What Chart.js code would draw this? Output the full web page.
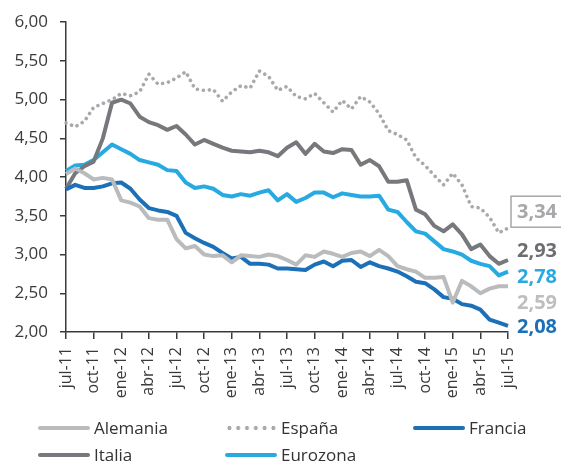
<!DOCTYPE html>
<html>
<head>
<meta charset="utf-8">
<script src="https://cdn.jsdelivr.net/npm/chart.js@4.4.1/dist/chart.umd.min.js"></script>
<style>
  html, body { margin: 0; padding: 0; background: #fff; }
  #wrap { position: relative; width: 561px; height: 464px; font-family: 'Open Sans', sans-serif; }
  #c { position: absolute; left: 0; top: 0; }
  .lg { position: absolute; display: flex; align-items: center; font-size: 17px; color: #333; line-height: 20px; white-space: nowrap; }
  .sw { width: 52px; height: 4px; margin-right: 4px; border-radius: 2px; }
  .sw.dots { background: radial-gradient(circle, #a7a9ac 1.8px, transparent 2.2px) 0 0 / 8.8px 4px repeat-x !important; }
</style>
</head>
<body>
<div id="wrap">
  <canvas id="c" width="561" height="464"></canvas>
</div>
<script>
// ── DATA ─────────────────────────────────────────────────────
const months = [
  'jul-11','ago-11','sep-11','oct-11','nov-11','dic-11',
  'ene-12','feb-12','mar-12','abr-12','may-12','jun-12','jul-12','ago-12','sep-12','oct-12','nov-12','dic-12',
  'ene-13','feb-13','mar-13','abr-13','may-13','jun-13','jul-13','ago-13','sep-13','oct-13','nov-13','dic-13',
  'ene-14','feb-14','mar-14','abr-14','may-14','jun-14','jul-14','ago-14','sep-14','oct-14','nov-14','dic-14',
  'ene-15','feb-15','mar-15','abr-15','may-15','jun-15','jul-15'
];

const alemania = [4.04, 4.11, 4.05, 3.97, 3.99, 3.97, 3.70, 3.67, 3.62, 3.47, 3.45, 3.45, 3.20,
  3.08, 3.11, 3.00, 2.98, 2.99, 2.90, 2.99, 2.98, 2.97, 3.00, 2.98, 2.93,
  2.87, 2.99, 2.97, 3.04, 3.01, 2.97, 3.02, 3.04, 2.98, 3.06, 2.98, 2.85,
  2.81, 2.78, 2.70, 2.70, 2.71, 2.38, 2.66, 2.59, 2.50, 2.56, 2.59, 2.59];

const espana = [4.70, 4.65, 4.72, 4.90, 4.95, 5.00, 5.08, 5.05, 5.10, 5.33, 5.20, 5.22, 5.28,
  5.36, 5.14, 5.12, 5.13, 4.98, 5.10, 5.18, 5.15, 5.37, 5.30, 5.12, 5.17,
  5.04, 5.01, 5.08, 4.96, 4.84, 4.99, 4.88, 5.04, 4.97, 4.82, 4.60, 4.55,
  4.48, 4.25, 4.15, 4.02, 3.90, 4.05, 3.90, 3.62, 3.60, 3.48, 3.28, 3.34];

const francia = [3.84, 3.90, 3.86, 3.86, 3.88, 3.92, 3.93, 3.85, 3.71, 3.60, 3.57, 3.55, 3.50,
  3.28, 3.21, 3.15, 3.10, 3.02, 2.95, 2.97, 2.88, 2.88, 2.87, 2.82, 2.82,
  2.81, 2.80, 2.87, 2.91, 2.85, 2.92, 2.93, 2.84, 2.90, 2.85, 2.82, 2.78,
  2.72, 2.65, 2.63, 2.55, 2.45, 2.43, 2.36, 2.34, 2.29, 2.16, 2.12, 2.08];

const italia = [3.85, 4.05, 4.14, 4.20, 4.50, 4.96, 5.00, 4.95, 4.78, 4.71, 4.67, 4.61, 4.66,
  4.55, 4.42, 4.48, 4.43, 4.38, 4.34, 4.33, 4.32, 4.34, 4.32, 4.27, 4.38,
  4.45, 4.30, 4.43, 4.33, 4.31, 4.36, 4.35, 4.16, 4.22, 4.14, 3.94, 3.94,
  3.96, 3.58, 3.52, 3.37, 3.30, 3.39, 3.26, 3.07, 3.13, 2.98, 2.88, 2.93];

const eurozona = [4.08, 4.15, 4.16, 4.22, 4.32, 4.42, 4.36, 4.30, 4.22, 4.19, 4.16, 4.09, 4.08,
  3.93, 3.86, 3.88, 3.85, 3.77, 3.75, 3.78, 3.76, 3.80, 3.83, 3.70, 3.78,
  3.68, 3.73, 3.80, 3.80, 3.74, 3.79, 3.77, 3.75, 3.75, 3.76, 3.58, 3.55,
  3.42, 3.30, 3.27, 3.17, 3.07, 3.04, 3.00, 2.92, 2.88, 2.85, 2.73, 2.78];

const yMin = 2, yMax = 6, yStep = 0.5;

// ── STYLE ────────────────────────────────────────────────────
const FONT = "'Open Sans', sans-serif";
const INK = '#3a3a3a';
const series = [
  { name: 'Alemania', data: alemania, color: '#b9bbbd', label: '#bcbec0', dy: 16 },
  { name: 'España',   data: espana,   color: '#a7a9ac', label: '#a6a8ab', dy: -17, dotted: true, boxed: true },
  { name: 'Francia',  data: francia,  color: '#1c70b8', label: '#1c70b8', dy: 0 },
  { name: 'Italia',   data: italia,   color: '#77787b', label: '#6d6e71', dy: -10 },
  { name: 'Eurozona', data: eurozona, color: '#27aae1', label: '#27aae1', dy: 5 },
];
// legend slots (left, top) in page px
const legendSlots = [[38, 418], [225, 418], [413, 418], [38, 445], [225, 445]];

const fmt = v => v.toFixed(2).replace('.', ',');

// ── END LABELS ───────────────────────────────────────────────
const endLabels = {
  id: 'endLabels',
  afterDatasetsDraw(chart) {
    const { ctx, chartArea, scales } = chart;
    ctx.save();
    ctx.font = `bold 20px ${FONT}`;
    ctx.textBaseline = 'middle';
    ctx.textAlign = 'left';
    series.forEach(s => {
      const v = s.data[s.data.length - 1];
      const y = scales.y.getPixelForValue(v) + s.dy;
      const x = chartArea.right + 9;
      const txt = fmt(v);
      if (s.boxed) {
        const w = ctx.measureText(txt).width;
        ctx.strokeStyle = '#a6a8ab';
        ctx.lineWidth = 1.5;
        ctx.strokeRect(x - 6, y - 15, w + 11, 31);
      }
      ctx.fillStyle = s.label;
      ctx.fillText(txt, x, y + 1);
    });
    ctx.restore();
  }
};

// ── CHART ────────────────────────────────────────────────────
new Chart(document.getElementById('c'), {
  type: 'line',
  data: {
    labels: months,
    datasets: series.map(s => ({
      label: s.name,
      data: s.data,
      borderColor: s.color,
      borderWidth: s.dotted ? 3.6 : 4,
      borderDash: s.dotted ? [0.01, 6] : [],
      borderCapStyle: s.dotted ? 'round' : 'butt',
      borderJoinStyle: 'round',
      pointRadius: 0,
      tension: 0,
      fill: false,
    })),
  },
  options: {
    responsive: false,
    animation: false,
    layout: { padding: { top: 22, right: 53, bottom: 0, left: 0 } },
    plugins: { legend: { display: false }, tooltip: { enabled: false } },
    scales: {
      x: {
        type: 'category',
        offset: false,
        afterFit: s => { s.height = 132; },
        afterBuildTicks: s => { s.ticks = s.ticks.filter((t, i) => i % 3 === 0); },
        border: { display: true, color: INK, width: 1.5 },
        grid: { drawOnChartArea: false, drawTicks: true, tickLength: 7, color: INK, lineWidth: 1.5 },
        ticks: {
          autoSkip: false, maxRotation: 90, minRotation: 90,
          color: INK, font: { family: FONT, size: 16 }, padding: 8,
        },
      },
      y: {
        min: yMin, max: yMax,
        afterFit: s => { s.width = 66; },
        border: { display: true, color: INK, width: 1.5 },
        grid: { drawOnChartArea: false, drawTicks: true, tickLength: 6, color: INK, lineWidth: 1.5 },
        ticks: {
          stepSize: yStep, color: INK, padding: 12,
          font: { family: FONT, size: 17 },
          callback: v => fmt(v),
        },
      },
    },
  },
  plugins: [endLabels],
});

// ── LEGEND ───────────────────────────────────────────────────
const wrap = document.getElementById('wrap');
series.forEach((s, i) => {
  const item = document.createElement('div');
  item.className = 'lg';
  item.style.left = legendSlots[i][0] + 'px';
  item.style.top = legendSlots[i][1] + 'px';
  const sw = document.createElement('span');
  sw.className = 'sw' + (s.dotted ? ' dots' : '');
  sw.style.background = s.color;
  const tx = document.createElement('span');
  tx.textContent = s.name;
  item.appendChild(sw);
  item.appendChild(tx);
  wrap.appendChild(item);
});
</script>
</body>
</html>
